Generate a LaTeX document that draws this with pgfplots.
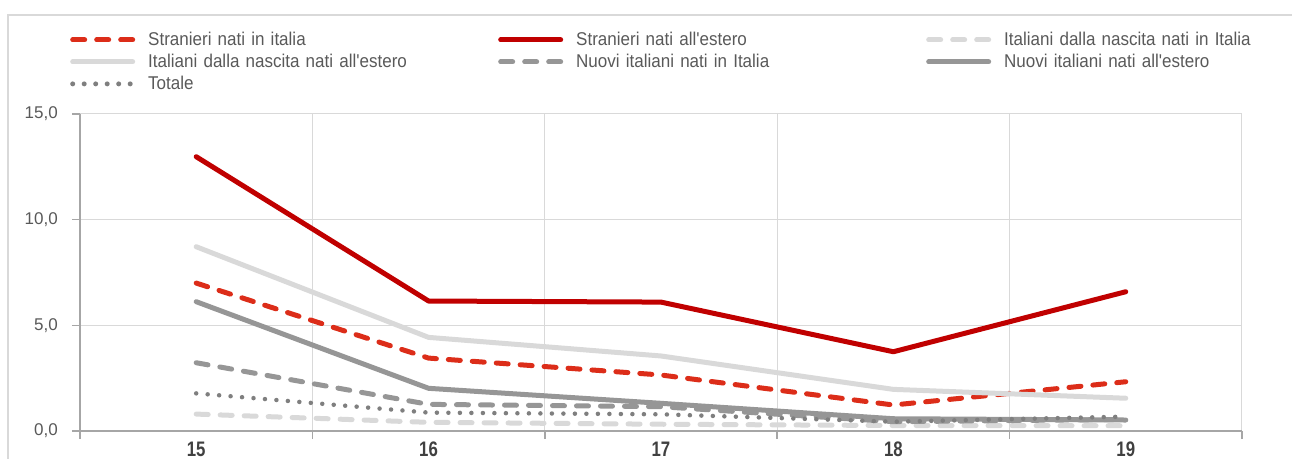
\documentclass[border=0pt]{standalone}
\usepackage{pgfplots}
\pgfplotsset{compat=1.18}
\usepackage{fontspec}
\setmainfont{Liberation Sans}
\newfontfamily\labfont{Liberation Sans}[FakeStretch=0.8]
\newfontfamily\legfont{Liberation Sans}[FakeStretch=0.92]

\definecolor{rossoscuro}{RGB}{192,0,0}
\definecolor{rosso}{RGB}{220,45,25}
\definecolor{grigiochiaro}{RGB}{217,217,217}
\definecolor{grigio}{RGB}{150,150,150}
\definecolor{grigioscuro}{RGB}{127,127,127}
\definecolor{testo}{RGB}{89,89,89}
\definecolor{etichette}{RGB}{64,64,64}
\definecolor{asse}{RGB}{166,166,166}

\begin{document}
\begin{tikzpicture}
\begin{axis}[
    at={(0,0)}, anchor=south west,
    scale only axis, width=1162bp, height=317bp,
    xmin=-0.5, xmax=4.5, ymin=0, ymax=15,
    axis lines=left,
    axis line style={-, draw=asse, line width=1.5bp},
    xtick={0,1,2,3,4}, xticklabels={15,16,17,18,19},
    minor xtick={-0.5,0.5,1.5,2.5,3.5,4.5},
    ytick={0,5,10,15}, minor ytick={0,5,10,15},
    major tick length=0pt, minor tick length=8bp, tick align=outside,
    tick style={draw=asse, line width=1.5bp},
    xminorgrids=true, ymajorgrids=true,
    grid style={draw=grigiochiaro, line width=1bp},
    minor grid style={draw=grigiochiaro, line width=1bp},
    yticklabel style={font=\fontsize{17bp}{19bp}\selectfont, text=testo,
        anchor=east, inner sep=0pt, xshift=-22bp},
    xticklabel style={font=\labfont\bfseries\fontsize{21bp}{23bp}\selectfont,
        text=etichette, anchor=north, inner sep=0pt, yshift=-11bp},
    /pgf/number format/.cd, fixed, fixed zerofill, precision=1, use comma,
        assume math mode=true,
    /pgfplots/.cd,
    legend columns=3,
    legend cell align=left,
    legend image code/.code={\draw[#1] (0bp,0bp) -- (60bp,0bp);},
    legend image post style={line width=5bp},
    legend style={at={(-0.0086,1.2628)}, anchor=north west,
        draw=none, fill=none, inner sep=0pt, row sep=4bp,
        nodes={inner sep=0pt, text height=15bp, text depth=3bp,
            font=\legfont\fontsize{18.5bp}{20bp}\selectfont, text=testo},
        /tikz/every odd column/.append style={column sep=13bp},
        /tikz/every even column/.append style={text width=350bp}},
]
% Stranieri nati in italia
\addplot[rosso, line width=5bp, line join=round, line cap=round, dash pattern=on 12bp off 12bp]
    coordinates {(0,7.0) (1,3.45) (2,2.65) (3,1.23) (4,2.33)};
\addlegendentry{Stranieri nati in italia}
% Stranieri nati all'estero
\addplot[rossoscuro, line width=5bp, line join=round, line cap=round]
    coordinates {(0,12.98) (1,6.15) (2,6.1) (3,3.75) (4,6.59)};
\addlegendentry{Stranieri nati all'estero}
% Italiani dalla nascita nati in Italia
\addplot[grigiochiaro, line width=5bp, line join=round, line cap=round, dash pattern=on 12bp off 12bp]
    coordinates {(0,0.8) (1,0.41) (2,0.32) (3,0.26) (4,0.25)};
\addlegendentry{Italiani dalla nascita nati in Italia}
% Italiani dalla nascita nati all'estero
\addplot[grigiochiaro, line width=5bp, line join=round, line cap=round]
    coordinates {(0,8.72) (1,4.43) (2,3.55) (3,1.97) (4,1.55)};
\addlegendentry{Italiani dalla nascita nati all'estero}
% Nuovi italiani nati in Italia
\addplot[grigio, line width=5bp, line join=round, line cap=round, dash pattern=on 12bp off 12bp]
    coordinates {(0,3.23) (1,1.26) (2,1.15) (3,0.44) (4,0.55)};
\addlegendentry{Nuovi italiani nati in Italia}
% Nuovi italiani nati all'estero
\addplot[grigio, line width=5bp, line join=round, line cap=round]
    coordinates {(0,6.12) (1,2.02) (2,1.31) (3,0.58) (4,0.52)};
\addlegendentry{Nuovi italiani nati all'estero}
% Totale
\addplot[grigioscuro, line width=4.5bp, line cap=round, dash pattern=on 0bp off 11.5bp]
    coordinates {(0,1.78) (1,0.87) (2,0.79) (3,0.44) (4,0.68)};
\addlegendentry{Totale}
\end{axis}
\draw[grigiochiaro, line width=1.5bp] (-72bp,-28bp) -- (-72bp,416bp) -- (1212bp,416bp);
\pgfresetboundingbox
\path (-80bp,-28bp) rectangle (1212bp,431bp);
\end{tikzpicture}
\end{document}
